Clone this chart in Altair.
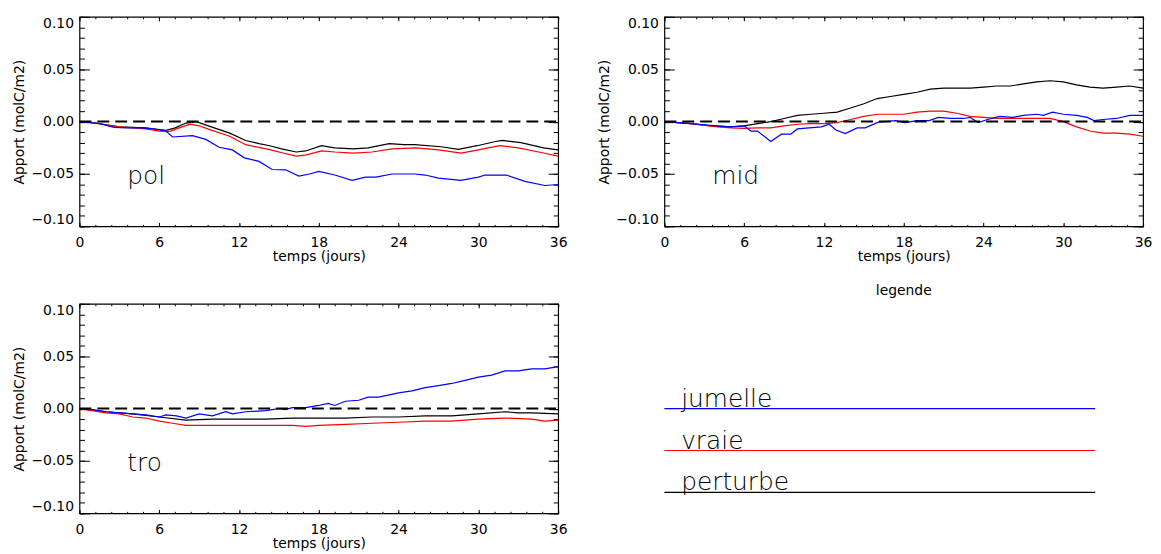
import altair as alt
import pandas as pd

# ---------------- data ----------------
X_MAJOR = [0, 6, 12, 18, 24, 30, 36]
X_MINOR = [0, 1.2, 2.4, 3.6, 4.8, 6, 7.2, 8.4, 9.6, 10.8, 12, 13.2, 14.4, 15.6, 16.8, 18,
           19.2, 20.4, 21.6, 22.8, 24, 25.2, 26.4, 27.6, 28.8, 30, 31.2, 32.4, 33.6, 34.8, 36]
Y_MAJOR = [-0.10, -0.05, 0.0, 0.05, 0.10]
Y_MINOR = [-0.10, -0.09, -0.08, -0.07, -0.06, -0.05, -0.04, -0.03, -0.02, -0.01, 0.0,
           0.01, 0.02, 0.03, 0.04, 0.05, 0.06, 0.07, 0.08, 0.09, 0.10]

ZERO_T = [0, 36]
ZERO_V = [0.0, 0.0]

# pol
POL_PERT_T = [0, 1, 2, 3, 4, 5, 6, 6.5, 7.2, 8.0, 8.8, 9.8, 11.3, 12.5, 13.5, 14.3, 15.2, 16.3, 17.0,
              18.2, 19.2, 20.6, 21.7, 23.3, 24.4, 25.2, 27.2, 28.5, 29.9, 31.3, 31.8, 33.2, 34.9, 36]
POL_PERT_V = [0, -0.001, -0.003, -0.005, -0.0055, -0.006, -0.0075, -0.0083, -0.006, -0.0014, 0.0, -0.0046,
              -0.011, -0.018, -0.021, -0.023, -0.026, -0.029, -0.028, -0.023, -0.025, -0.026, -0.025, -0.021,
              -0.022, -0.022, -0.024, -0.0265, -0.023, -0.019, -0.018, -0.020, -0.025, -0.027]
POL_VRAIE_T = [0, 1, 2, 3, 4, 5, 6, 6.8, 7.5, 8.3, 9.0, 9.8, 11.3, 12.5, 14.3, 15.3, 16.3, 17.0, 18.2,
               19.2, 20.6, 22.0, 23.5, 25.3, 27.0, 28.7, 30.0, 31.6, 33.0, 34.9, 36]
POL_VRAIE_V = [0, -0.001, -0.003, -0.005, -0.006, -0.007, -0.009, -0.0093, -0.006, -0.0024, -0.004, -0.0077,
               -0.014, -0.022, -0.0267, -0.030, -0.033, -0.032, -0.028, -0.029, -0.030, -0.029, -0.026,
               -0.025, -0.027, -0.030, -0.027, -0.023, -0.025, -0.030, -0.033]
POL_JUM_T = [0, 1.5, 2.6, 3.5, 4.5, 5.5, 6.5, 7.0, 8.5, 9.5, 10.5, 11.5, 12.4, 13.5, 14.5, 15.5, 16.5,
             17.3, 18.0, 19.2, 20.5, 21.5, 22.3, 23.5, 25.2, 26.0, 27.0, 28.7, 30.0, 30.5, 32.1, 33.5, 35.0, 36]
POL_JUM_V = [0, -0.002, -0.0055, -0.006, -0.006, -0.0068, -0.009, -0.0147, -0.0134, -0.017, -0.0245, -0.027,
             -0.0346, -0.038, -0.0457, -0.046, -0.052, -0.050, -0.0476, -0.051, -0.056, -0.053, -0.053,
             -0.050, -0.050, -0.051, -0.054, -0.056, -0.053, -0.051, -0.051, -0.057, -0.061, -0.060]

# mid
MID_PERT_T = [0, 2, 3.5, 5, 6, 7, 8, 9, 10, 11, 12, 13, 14, 15, 16, 17, 18, 19, 20, 21, 22, 23, 24,
              25, 26, 27, 28, 29, 30, 31, 32, 33, 34, 35, 36]
MID_PERT_V = [0, -0.002, -0.004, -0.005, -0.004, -0.002, 0.0, 0.003, 0.006, 0.007, 0.008, 0.009, 0.013,
              0.017, 0.022, 0.024, 0.026, 0.028, 0.031, 0.032, 0.032, 0.032, 0.033, 0.034, 0.034, 0.036,
              0.038, 0.039, 0.038, 0.035, 0.033, 0.032, 0.033, 0.034, 0.032]
MID_VRAIE_T = [0, 2, 4, 5, 6, 7, 8, 9, 10, 11, 12, 13, 14, 15, 16, 17, 18, 19, 20, 21, 22, 23, 24, 25,
               26, 27, 28, 29, 30, 31, 32, 33, 34, 35, 36]
MID_VRAIE_V = [0, -0.002, -0.005, -0.006, -0.0065, -0.006, -0.006, -0.004, -0.0025, -0.002, -0.002, -0.001,
               0.002, 0.005, 0.007, 0.007, 0.007, 0.009, 0.010, 0.010, 0.008, 0.005, 0.004, 0.003, 0.003,
               0.003, 0.003, 0.003, 0.000, -0.005, -0.009, -0.011, -0.011, -0.012, -0.014]
MID_JUM_T = [0, 1, 2, 3, 4, 5, 6, 6.5, 7.0, 8.0, 8.8, 9.5, 10.0, 11.8, 12.4, 12.9, 13.6, 14.5, 15.1,
             16.1, 17.4, 18.1, 19, 19.9, 20.6, 21.5, 22.5, 23, 23.6, 24.3, 25.2, 26.2, 27, 28, 28.5,
             29.2, 30, 31, 31.8, 32.3, 33, 34, 35, 36]
MID_JUM_V = [0, -0.001, -0.002, -0.003, -0.004, -0.005, -0.004, -0.009, -0.009, -0.019, -0.012, -0.012,
             -0.007, -0.005, -0.0025, -0.008, -0.0115, -0.006, -0.006, -0.0005, 0.001, -0.001, 0.001,
             0.001, 0.004, 0.003, 0.003, 0.004, -0.001, 0.002, 0.005, 0.004, 0.006, 0.007, 0.006, 0.009,
             0.007, 0.006, 0.004, 0.001, 0.002, 0.003, 0.006, 0.006]

# tro
TRO_PERT_T = [0, 2, 4, 6, 8, 10, 12, 14, 16, 18, 20, 22, 24, 26, 28, 30, 32, 33, 34, 36]
TRO_PERT_V = [0, -0.003, -0.005, -0.008, -0.011, -0.010, -0.010, -0.010, -0.009, -0.009, -0.009, -0.008,
              -0.008, -0.007, -0.007, -0.005, -0.003, -0.004, -0.004, -0.005]
TRO_VRAIE_T = [0, 2, 3, 4, 5, 6, 7, 8, 10, 12, 14, 16, 17, 18, 20, 22, 24, 26, 28, 30, 32, 34, 35, 36]
TRO_VRAIE_V = [0, -0.004, -0.005, -0.008, -0.009, -0.012, -0.014, -0.016, -0.016, -0.016, -0.016, -0.016,
               -0.017, -0.016, -0.015, -0.014, -0.013, -0.012, -0.012, -0.010, -0.009, -0.010, -0.012, -0.011]
TRO_JUM_T = [0, 1, 2, 3, 4, 5, 6, 6.5, 7.3, 8, 9, 10, 11, 11.5, 12.5, 14, 15, 15.5, 16, 17, 18, 18.7,
             19.2, 20, 21, 21.7, 22.5, 24, 25, 26, 27, 28, 29, 30, 31, 32, 33, 34, 35, 36]
TRO_JUM_V = [0, -0.001, -0.003, -0.004, -0.005, -0.006, -0.008, -0.006, -0.007, -0.009, -0.005, -0.007,
             -0.003, -0.005, -0.003, -0.002, 0.000, -0.001, 0.001, 0.001, 0.003, 0.005, 0.003, 0.007,
             0.008, 0.011, 0.011, 0.015, 0.017, 0.020, 0.022, 0.024, 0.027, 0.030, 0.032, 0.036, 0.036,
             0.038, 0.038, 0.040]

PANEL_NAMES = ["pol", "mid", "tro"]
LABEL_DAY = [3.6, 3.6, 3.6]
LABEL_VAL = [-0.060, -0.060, -0.060]

LEG_NAMES = ["jumelle", "vraie", "perturbe"]
LEG_COLORS = ["#0000ff", "#ff0000", "#000000"]
LEG_X0 = [0.0, 0.0, 0.0]
LEG_X1 = [0.9, 0.9, 0.9]
LEG_Y = [0.5, 0.3, 0.1]
LEG_TX = [0.035, 0.035, 0.035]

# ---------------- styling ----------------
FONT = "DejaVu Sans"
W, H = 482, 211
MAJ_X, MIN_X = 4, 2
MAJ_Y, MIN_Y = 10, 5


def xs():
    return alt.Scale(domain=[0, 36], nice=False, zero=False)


def ys():
    return alt.Scale(domain=[-0.1, 0.1], nice=False, zero=False)


def tick_axis(orient, values, size):
    return alt.Axis(orient=orient, values=values, tickSize=size, offset=-size, domain=False,
                    grid=False, labels=False, title=None, tickColor="black", tickWidth=1)


X_BOTTOM = alt.Axis(orient="bottom", values=X_MAJOR, tickSize=MAJ_X, offset=-MAJ_X, domain=False,
                    grid=False, labels=True, labelPadding=9, labelFlush=False, format="d",
                    title="temps (jours)", titleX=W / 2, titleY=38, titleBaseline="alphabetic",
                    titleAlign="center", tickColor="black", tickWidth=1)
Y_LEFT = alt.Axis(orient="left", values=Y_MAJOR, tickSize=MAJ_Y, offset=-MAJ_Y, domain=False,
                  grid=False, labels=True, labelPadding=6, labelFlush=True, format=".2f",
                  title="Apport (molC/m2)", titleX=-70, titleY=H / 2, titleAngle=270,
                  titleBaseline="middle", titleAlign="center", tickColor="black", tickWidth=1)


def series(t, v):
    return pd.DataFrame({"t": t, "v": v})


def line(df, color, xa, ya, dash=None, width=1.2):
    kw = dict(color=color, strokeWidth=width)
    if dash is not None:
        kw["strokeDash"] = dash
    return alt.Chart(df).mark_line(**kw).encode(
        x=alt.X("t:Q", scale=xs(), axis=xa),
        y=alt.Y("v:Q", scale=ys(), axis=ya),
    )


def panel(i, pert, vraie, jum):
    a = line(series(*pert), "#000000", X_BOTTOM, Y_LEFT)
    b = line(series(*vraie), "#ff0000", tick_axis("top", X_MAJOR, MAJ_X), tick_axis("right", Y_MAJOR, MAJ_Y))
    c = line(series(*jum), "#0000ff", tick_axis("bottom", X_MINOR, MIN_X), tick_axis("left", Y_MINOR, MIN_Y))
    d = line(series(ZERO_T, ZERO_V), "#000000", tick_axis("top", X_MINOR, MIN_X),
             tick_axis("right", Y_MINOR, MIN_Y), dash=[12, 6], width=2)
    lab = pd.DataFrame({"t": [LABEL_DAY[i]], "v": [LABEL_VAL[i]], "name": [PANEL_NAMES[i]]})
    e = alt.Chart(lab).mark_text(align="left", baseline="alphabetic", font=FONT, fontSize=25,
                                 fontWeight=300, color="black").encode(
        x=alt.X("t:Q", scale=xs(), axis=None),
        y=alt.Y("v:Q", scale=ys(), axis=None),
        text="name:N",
    )
    return alt.layer(a, b, c, d, e).resolve_axis(x="independent", y="independent").properties(
        width=W, height=H, view=alt.ViewBackground(stroke="black", strokeWidth=1.2))


p1 = panel(0, (POL_PERT_T, POL_PERT_V), (POL_VRAIE_T, POL_VRAIE_V), (POL_JUM_T, POL_JUM_V))
p2 = panel(1, (MID_PERT_T, MID_PERT_V), (MID_VRAIE_T, MID_VRAIE_V), (MID_JUM_T, MID_JUM_V))
p3 = panel(2, (TRO_PERT_T, TRO_PERT_V), (TRO_VRAIE_T, TRO_VRAIE_V), (TRO_JUM_T, TRO_JUM_V))

leg_df = pd.DataFrame({"name": LEG_NAMES, "x0": LEG_X0, "x1": LEG_X1, "y": LEG_Y, "tx": LEG_TX})
leg_rules = alt.Chart(leg_df).mark_rule(strokeWidth=1.2).encode(
    x=alt.X("x0:Q", scale=alt.Scale(domain=[0, 1], nice=False), axis=None),
    x2="x1:Q",
    y=alt.Y("y:Q", scale=alt.Scale(domain=[0, 1], nice=False), axis=None),
    color=alt.Color("name:N", scale=alt.Scale(domain=LEG_NAMES, range=LEG_COLORS), legend=None),
)
leg_text = alt.Chart(leg_df).mark_text(align="left", baseline="alphabetic", dy=-2, font=FONT,
                                       fontSize=25, fontWeight=300, color="black").encode(
    x=alt.X("tx:Q", scale=alt.Scale(domain=[0, 1], nice=False), axis=None),
    y=alt.Y("y:Q", scale=alt.Scale(domain=[0, 1], nice=False), axis=None),
    text="name:N",
)
legend = alt.layer(leg_rules, leg_text).properties(
    width=W, height=H,
    title=alt.TitleParams("legende", font=FONT, fontSize=14, fontWeight="normal", offset=6,
                          color="black", anchor="middle"),
    view=alt.ViewBackground(stroke="transparent"),
)

chart = alt.concat(p1, p2, p3, legend, columns=2, spacing={"row": 78, "column": 107},
                   bounds="flush").properties(
    padding={"left": 4, "top": 5, "right": 0, "bottom": 0},
    background="white",
).configure_axis(
    labelFont=FONT, labelFontSize=14, labelColor="black",
    titleFont=FONT, titleFontSize=14, titleFontWeight="normal", titleColor="black",
).configure_view(stroke="black")

chart.save("out.html", embed_options={"renderer": "svg", "actions": False})
